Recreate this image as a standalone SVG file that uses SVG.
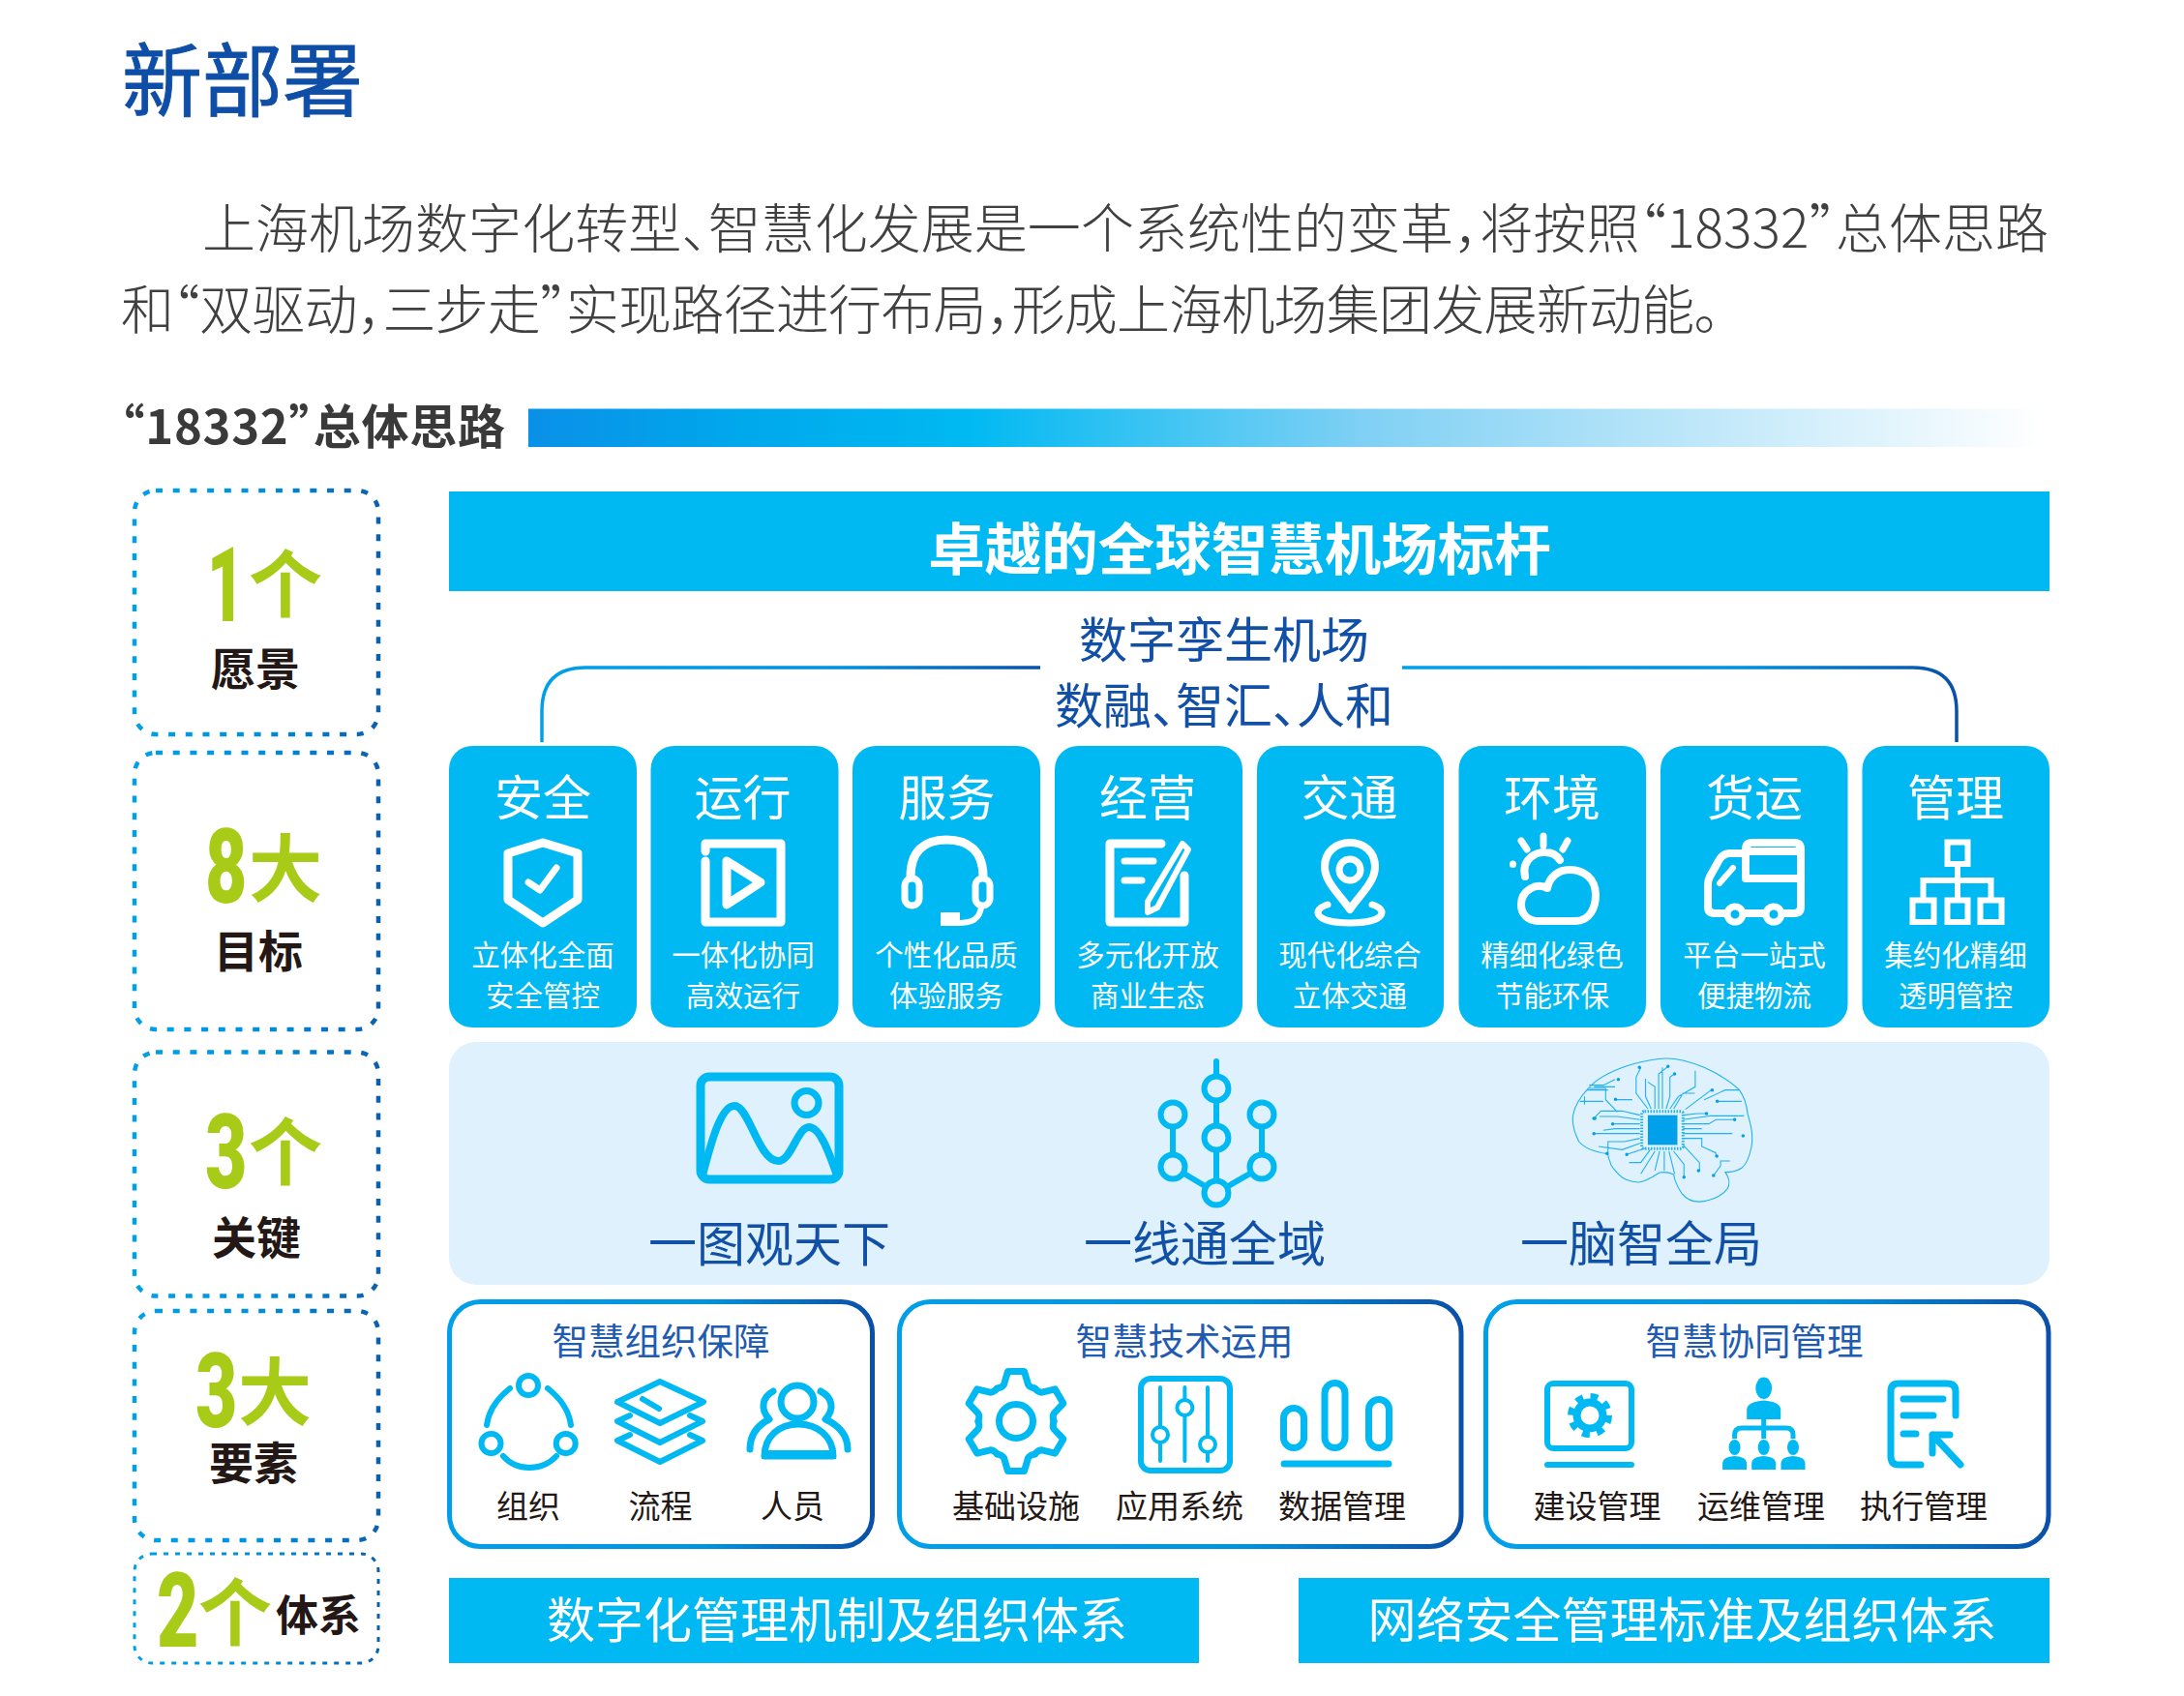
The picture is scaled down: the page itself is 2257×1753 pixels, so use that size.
<svg xmlns="http://www.w3.org/2000/svg" xmlns:xlink="http://www.w3.org/1999/xlink" width="2257" height="1753" viewBox="0 0 2257 1753">
<style>
text{font-family:"Noto Sans CJK SC","Noto Sans",sans-serif;font-feature-settings:"halt"}
.blue{fill:#1150a6}
.para{font-size:55px;fill:#404040;font-weight:300}
.ctitle{font-size:50px;fill:#fff;text-anchor:middle}
.csub{font-size:29.5px;fill:#fff;text-anchor:middle}
.big{font-size:50px;fill:#1150a6;text-anchor:middle}
.ft{font-size:37.5px;fill:#1f5bb0;text-anchor:middle}
.fl{font-size:33px;fill:#231815;text-anchor:middle}
.bar{font-size:50px;fill:#fff;text-anchor:middle}
.num{font-family:Roboto,"Liberation Sans",sans-serif;font-weight:900;font-size:107px;fill:#a8cb17}
.gc{font-size:76px;font-weight:700;fill:#a8cb17;text-anchor:middle}
.lb{font-size:46px;font-weight:700;fill:#231815;text-anchor:middle}
.dash{fill:none;stroke:url(#dg);stroke-width:4.5;stroke-dasharray:7 10.7}
.card{fill:#00b9f2}
.frame{fill:#fff;stroke:url(#fg);stroke-width:5}
.w{fill:none;stroke:#fff;stroke-width:9;stroke-linecap:round;stroke-linejoin:round}
.b{fill:none;stroke:#00b9f2;stroke-width:7;stroke-linecap:round;stroke-linejoin:round}
.bf{fill:#00b9f2}
.tr{fill:none;stroke:#1fb2ef;stroke-width:1.1;vector-effect:non-scaling-stroke}
.dot{fill:none;stroke:#00a0ea;stroke-width:3.5;stroke-linecap:round;vector-effect:non-scaling-stroke}
</style>
<defs>
<linearGradient id="hb" x1="0" x2="1" y1="0" y2="0">
<stop offset="0" stop-color="#0a90e8"/><stop offset=".14" stop-color="#00a8ec"/><stop offset=".29" stop-color="#00b9f2"/><stop offset=".55" stop-color="#7fd0f4"/><stop offset="1" stop-color="#fff"/>
</linearGradient>
<linearGradient id="dg" x1="0" x2="1" y1="0" y2="0"><stop offset="0" stop-color="#00a0e9"/><stop offset=".5" stop-color="#0090dd"/><stop offset="1" stop-color="#0a5fb0"/></linearGradient>
<linearGradient id="fg" x1="0" x2="1" y1="0" y2="0"><stop offset="0" stop-color="#00a0e9"/><stop offset=".6" stop-color="#0094de"/><stop offset="1" stop-color="#0a50a8"/></linearGradient>
<linearGradient id="lg1" gradientUnits="userSpaceOnUse" x1="560" x2="1075" y1="0" y2="0"><stop offset="0" stop-color="#00a0e9"/><stop offset=".6" stop-color="#0090dd"/><stop offset="1" stop-color="#0a50a8"/></linearGradient>
<linearGradient id="lg2" gradientUnits="userSpaceOnUse" x1="1449" x2="2022" y1="0" y2="0"><stop offset="0" stop-color="#00a0e9"/><stop offset=".6" stop-color="#0090dd"/><stop offset="1" stop-color="#0a50a8"/></linearGradient>
<path id="tooth" d="M-19.5 -33.8Q-14 -35 -12.5 -38L-8.5 -51.5H8.5L12.5 -38Q14 -35 19.5 -33.8"/>
<g id="man"><ellipse cx="0" cy="-13" rx="6" ry="8"/><path d="M-12.5 10V3Q-12.5 -3 0 -4Q12.5 -3 12.5 3V10Z"/></g>
</defs>
<rect width="2257" height="1753" fill="#fff"/>

<g id="heading">
<text x="126" y="114" font-size="83" fill="#0f4ea7" stroke="#0f4ea7" stroke-width=".9">新部署</text>
<text x="209" y="256" class="para" textLength="1908">上海机场数字化转型、智慧化发展是一个系统性的变革，将按照“18332”总体思路</text>
<text x="125" y="340" class="para" textLength="1653">和“双驱动，三步走”实现路径进行布局，形成上海机场集团发展新动能。</text>
<text x="125" y="459" font-size="49" font-weight="700" fill="#3a3a3a" textLength="397">“18332”总体思路</text>
<rect x="546" y="422.5" width="1565" height="39.5" fill="url(#hb)"/>
</g>

<g id="box-vision"><rect class="dash" x="139" y="507" width="252" height="252" rx="22"/>
<text class="num" transform="translate(214 642) scale(.62 1)">1</text><text class="gc" x="295" y="632">个</text><text class="lb" x="264" y="708">愿景</text></g>
<g id="box-goals"><rect class="dash" x="139" y="778" width="252" height="286" rx="22"/>
<text class="num" transform="translate(212 933) scale(.7 1)">8</text><text class="gc" x="295" y="926">大</text><text class="lb" x="267" y="1000">目标</text></g>
<g id="box-keys"><rect class="dash" x="139" y="1087.6" width="252" height="252" rx="22"/>
<text class="num" transform="translate(212 1228) scale(.7 1)">3</text><text class="gc" x="295" y="1219">个</text><text class="lb" x="265" y="1296">关键</text></g>
<g id="box-elements"><rect class="dash" x="139" y="1355" width="252" height="237" rx="22"/>
<text class="num" transform="translate(202 1475) scale(.7 1)">3</text><text class="gc" x="284" y="1467">大</text><text class="lb" x="262" y="1529">要素</text></g>
<g id="box-systems"><rect class="dash" x="139" y="1606" width="252" height="113" rx="18" style="stroke-width:3;stroke-dasharray:5 7"/>
<text class="num" transform="translate(162 1702) scale(.7 1)">2</text><text class="gc" x="243" y="1695">个</text><text class="lb" style="font-size:44px" x="329" y="1686">体系</text></g>

<g id="vision"><rect x="464" y="508" width="1654" height="103" fill="#00b9f2"/>
<text x="1281" y="588.5" font-size="58.5" font-weight="700" fill="#fff" text-anchor="middle">卓越的全球智慧机场标杆</text></g>

<g id="connectors" fill="none" stroke-width="3.5">
<path d="M560 767V735Q560 690 605 690H1075" stroke="url(#lg1)"/>
<path d="M1449 690H1977Q2022 690 2022 735V767" stroke="url(#lg2)"/>
</g>
<g id="twin">
<text class="big" x="1265" y="680">数字孪生机场</text>
<text class="big" x="1265" y="748">数融、智汇、人和</text>
</g>

<g id="card-safety"><rect class="card" x="464" y="771" width="194" height="291" rx="24"/>
<text class="ctitle" x="561" y="843">安全</text>
<path class="w" d="M561 871L597 882V930L561 954L525 930V882Z"/><path class="w" style="stroke-width:7" d="M546 912L558 920L575 897"/>
<text class="csub" x="561" y="998">立体化全面</text><text class="csub" x="561" y="1040">安全管控</text></g>
<g id="card-ops"><rect class="card" x="672.5" y="771" width="194" height="291" rx="24"/>
<text class="ctitle" x="767.5" y="843">运行</text>
<path class="w" d="M729 880V872H807V953H729V890"/><path class="w" d="M751 890L786 912L751 935Z"/>
<text class="csub" x="768" y="998">一体化协同</text><text class="csub" x="768" y="1040">高效运行</text></g>
<g id="card-service"><rect class="card" x="881" y="771" width="194" height="291" rx="24"/>
<text class="ctitle" x="978.5" y="843">服务</text>
<path class="w" d="M941 906C941 880 955 868 978 868C1001 868 1016 880 1016 906"/>
<rect class="w" style="stroke-width:7" x="935" y="908" width="15" height="28" rx="7.5"/><rect class="w" style="stroke-width:7" x="1008" y="908" width="15" height="28" rx="7.5"/>
<path class="w" style="stroke-width:6" d="M1014 938C1012 950 1005 954 990 954"/><rect x="972" y="943" width="20" height="14" fill="#fff"/>
<text class="csub" x="978" y="998">个性化品质</text><text class="csub" x="978" y="1040">体验服务</text></g>
<g id="card-business"><rect class="card" x="1090" y="771" width="194" height="291" rx="24"/>
<text class="ctitle" x="1186" y="843">经营</text>
<path class="w" d="M1200 872H1147V953H1224V905"/><path class="w" style="stroke-width:7" d="M1162 890H1192M1162 910H1180"/>
<path class="w" style="stroke-width:6" d="M1222 872L1228 878L1196 938L1186 943L1186 932Z"/>
<text class="csub" x="1186" y="998">多元化开放</text><text class="csub" x="1186" y="1040">商业生态</text></g>
<g id="card-traffic"><rect class="card" x="1299" y="771" width="193" height="291" rx="24"/>
<text class="ctitle" x="1394.5" y="843">交通</text>
<path class="w" style="stroke-width:8" d="M1395 940C1385 925 1369 912 1369 896C1369 880 1381 871 1395 871C1409 871 1421 880 1421 896C1421 912 1405 925 1395 940Z"/>
<circle class="w" style="stroke-width:7" cx="1395" cy="899" r="11"/>
<path class="w" style="stroke-width:7" d="M1372 935C1355 940 1358 954 1395 954C1432 954 1435 940 1418 935"/>
<text class="csub" x="1395" y="998">现代化综合</text><text class="csub" x="1395" y="1040">立体交通</text></g>
<g id="card-env"><rect class="card" x="1507.5" y="771" width="193.5" height="291" rx="24"/>
<text class="ctitle" x="1604" y="843">环境</text>
<path class="w" style="stroke-width:7" d="M1595 864V874M1572 869L1578 878M1620 869L1615 878M1563.5 893V893.5"/>
<path class="w" style="stroke-width:8" d="M1576 906C1572 888 1588 880 1597 881C1604 881 1609 884 1612 889"/>
<path class="w" style="stroke-width:8" d="M1590 952H1628C1643 952 1649 938 1649 925C1649 908 1637 899 1622 899C1610 899 1601 907 1599 918C1588 912 1572 920 1572 935C1572 946 1580 952 1590 952Z"/>
<text class="csub" x="1604" y="998">精细化绿色</text><text class="csub" x="1604" y="1040">节能环保</text></g>
<g id="card-cargo"><rect class="card" x="1716" y="771" width="193.5" height="291" rx="24"/>
<text class="ctitle" x="1813" y="843">货运</text>
<path class="w" style="stroke-width:8" d="M1804 882H1788Q1780 882 1776 890L1767 906Q1765 910 1765 914V937Q1765 944 1772 944H1782M1804 944H1822M1844 944H1854Q1861 944 1861 937V908"/>
<path class="w" style="stroke-width:8" d="M1804 908V878Q1804 871 1811 871H1854Q1861 871 1861 878V908ZM1806 880H1860"/>
<path class="w" style="stroke-width:6" d="M1777 913L1791 897"/>
<circle class="w" style="stroke-width:7" cx="1793" cy="945" r="8"/><circle class="w" style="stroke-width:7" cx="1833" cy="945" r="8"/>
<text class="csub" x="1813" y="998">平台一站式</text><text class="csub" x="1813" y="1040">便捷物流</text></g>
<g id="card-mgmt"><rect class="card" x="1924.5" y="771" width="193.5" height="291" rx="24"/>
<text class="ctitle" x="2021" y="843">管理</text>
<path class="w" style="stroke-width:6;stroke-linecap:butt;stroke-linejoin:miter" d="M2012.5 870.5H2033.5V893H2012.5ZM1976.5 930.5H1998.5V953H1976.5ZM2012.5 930.5H2033.5V953H2012.5ZM2046.5 930.5H2068.5V953H2046.5ZM2023 893V930M1987.5 930V910H2057.5V930"/>
<text class="csub" x="2021" y="998">集约化精细</text><text class="csub" x="2021" y="1040">透明管控</text></g>

<rect id="key-panel" x="464" y="1077" width="1654" height="251" rx="28" fill="#def1fc"/>
<g id="key-map">
<rect x="724" y="1113" width="143" height="106" rx="9" fill="none" stroke="#00b9f2" stroke-width="9"/>
<circle class="b" cx="833.5" cy="1140" r="12.5"/>
<path class="b" style="stroke-width:8" d="M726 1215C735 1180 745 1143 759 1143C774 1143 784 1200 804 1200C818 1200 824 1165 836 1165C848 1165 858 1195 865 1215"/>
<text class="big" x="795" y="1304">一图观天下</text></g>
<g id="key-line">
<path class="b" style="stroke-width:6" d="M1257 1097V1233M1212 1152V1206L1257 1233L1304 1206V1152"/>
<g fill="#def1fc" stroke="#00b9f2" stroke-width="6"><circle cx="1257" cy="1125" r="12.5"/><circle cx="1212" cy="1152" r="12.5"/><circle cx="1304" cy="1152" r="12.5"/><circle cx="1257" cy="1176" r="12.5"/><circle cx="1212" cy="1206" r="12.5"/><circle cx="1304" cy="1206" r="12.5"/><circle cx="1257" cy="1233" r="12.5"/></g>
<text class="big" x="1245" y="1304">一线通全域</text></g>
<g id="key-brain">
<g transform="translate(1400 1070) scale(.4847 .3333)">
<path class="tr" d="M540 368C510 362 490 350 478 330C468 300 462 270 466 245C470 215 482 190 498 165C515 135 540 115 580 95C610 82 640 72 665 72C695 72 720 85 745 100C775 120 800 140 820 170C833 195 836 220 838 245C845 280 850 310 846 345C842 375 835 400 825 412C815 422 800 425 790 425C797 440 802 455 795 475C785 495 770 508 745 515C725 520 708 510 697 490C688 470 682 450 680 432C670 425 658 424 650 426C635 440 618 455 605 456C590 455 575 450 565 435C555 420 545 405 545 395C542 385 540 375 540 368Z"/>
<path class="tr" d="M625 228L600 180V130L610 100M632 228L620 190V135M640 228V160L625 145M648 228V120L668 97M656 228V100M664 228L672 190V130L682 120M672 228L690 190L726 160V110M680 228L700 180H725M608 248L570 235H525L510 258M608 262L560 252H522M608 275H550M608 290H555L530 295M608 305H510M608 320L575 330H540V365M608 335L570 355L520 345M560 238L535 200V165H500M555 160H510M555 137L530 155H500M555 200H592M700 248L730 243H750M700 262L760 250H830M700 275H755L770 262H810M700 290H740M700 305H805M700 320H740V345L770 365V375M705 230L760 170M745 200L790 170H820M770 205H825M700 340L735 395V420M680 360L702 400V440M670 360L682 430M660 360V420M650 360L640 420M640 360L610 430M630 355L610 395H585M620 350L580 370M800 390H780V405L765 435M490 215V190M480 205H530M495 170H540"/>
<path class="dot" d="M510 258h0M550 275h0M510 305h0M556 199h0M562 137h0M668 97h0M682 120h0M607 100h0M750 243h0M810 262h0M762 170h0M773 205h0M772 375h0M733 420h0M702 440h0M580 370h0M538 367h0M765 435h0M828 312h0M512 258h0"/>
<rect x="612" y="236" width="88" height="116" rx="6" fill="none" stroke="#1fb2ef" stroke-width="3" stroke-dasharray="1.5 1.5" vector-effect="non-scaling-stroke"/>
<rect x="625" y="248" width="63" height="92" fill="#00a0ea"/>
</g>
<text class="big" x="1696" y="1304">一脑智全局</text></g>

<g id="frame-org"><rect class="frame" x="464.5" y="1345.5" width="437" height="253" rx="32"/>
<text class="ft" x="683" y="1400">智慧组织保障</text>
<path class="b" style="stroke-width:6" d="M527 1435C513 1446 505 1458 503 1473M566 1435C580 1446 588 1458 590 1473M520 1505C534 1521 560 1521 575 1505"/>
<circle class="b" style="stroke-width:6" cx="546" cy="1432" r="10"/><circle class="b" style="stroke-width:6" cx="507.5" cy="1492" r="10"/><circle class="b" style="stroke-width:6" cx="584.7" cy="1492" r="10"/>
<path class="b" style="stroke-width:6" d="M682 1428L727 1449L682 1471L638 1449ZM664 1446L681 1456M651 1463L638 1469L682 1491L726 1469L713 1463M651 1483L638 1489L682 1511L726 1489L713 1483"/>
<ellipse class="b" cx="824" cy="1449" rx="17" ry="17"/>
<path class="b" d="M790 1505C790 1485 805 1472 825 1472C845 1472 861 1485 861 1505Z"/>
<path class="bf" d="M787 1499H864V1508H787Z"/>
<path class="b" d="M799 1438C788 1444 785 1456 795 1467C783 1473 775 1483 775 1498M848 1438C860 1444 863 1456 853 1467C866 1473 876 1483 876 1498"/>
<text class="fl" x="546" y="1569">组织</text><text class="fl" x="682.5" y="1569">流程</text><text class="fl" x="819" y="1569">人员</text></g>

<g id="frame-tech"><rect class="frame" x="929.5" y="1345.5" width="580.5" height="253" rx="32"/>
<text class="ft" x="1224" y="1400">智慧技术运用</text>
<g class="b" transform="translate(1050 1469)"><use xlink:href="#tooth"/><use xlink:href="#tooth" transform="rotate(60)"/><use xlink:href="#tooth" transform="rotate(120)"/><use xlink:href="#tooth" transform="rotate(180)"/><use xlink:href="#tooth" transform="rotate(240)"/><use xlink:href="#tooth" transform="rotate(300)"/><circle r="17.5"/></g>
<rect class="b" style="stroke-width:6" x="1179" y="1425" width="92" height="95" rx="10"/>
<path class="b" style="stroke-width:4" d="M1199 1434V1510M1224.4 1434V1510M1248 1434V1510"/>
<g fill="#fff" stroke="#00b9f2" stroke-width="4"><circle cx="1199" cy="1483" r="8"/><circle cx="1224.4" cy="1455" r="8"/><circle cx="1248" cy="1493" r="8"/></g>
<rect class="b" x="1326.5" y="1455.5" width="21" height="41" rx="10.5"/><rect class="b" x="1369" y="1429.5" width="21" height="67" rx="10.5"/><rect class="b" x="1414.5" y="1446.5" width="21" height="50" rx="10.5"/>
<path class="b" d="M1327 1513H1435"/>
<text class="fl" x="1050" y="1569">基础设施</text><text class="fl" x="1219" y="1569">应用系统</text><text class="fl" x="1387" y="1569">数据管理</text></g>

<g id="frame-mgmt"><rect class="frame" x="1535.5" y="1345.5" width="581.5" height="253" rx="32"/>
<text class="ft" x="1813" y="1400">智慧协同管理</text>
<rect class="b" style="stroke-width:6" x="1599" y="1430" width="87" height="67" rx="6"/><path class="b" style="stroke-width:6" d="M1599 1514H1686"/>
<g fill="none" stroke="#00b9f2"><circle cx="1643" cy="1463" r="19" stroke-width="8" stroke-dasharray="7.5 7.42"/><circle cx="1643" cy="1463" r="13.5" stroke-width="8"/></g>
<g class="bf"><use xlink:href="#man" transform="translate(1822.7 1453) scale(1.4)"/><use xlink:href="#man" transform="translate(1792.6 1509)"/><use xlink:href="#man" transform="translate(1822.7 1509)"/><use xlink:href="#man" transform="translate(1853 1509)"/></g>
<path class="b" style="stroke-width:5;stroke-linecap:butt" d="M1822.7 1466V1487M1792.6 1487V1483Q1792.6 1476 1800 1476H1846Q1853 1476 1853 1483V1487"/>
<path class="b" d="M1985 1514H1962Q1954 1514 1954 1505V1438Q1954 1430 1962 1430H2012Q2021 1430 2021 1438V1463M1967 1446H2008M1967 1463H1998M1967 1482H1980M2026 1514L1997 1483M2015 1483H1997V1502"/>
<text class="fl" x="1650.5" y="1569">建设管理</text><text class="fl" x="1820" y="1569">运维管理</text><text class="fl" x="1988" y="1569">执行管理</text></g>

<g id="bar-digital"><rect x="464" y="1631" width="775" height="88" fill="#00b9f2"/><text class="bar" x="865" y="1693">数字化管理机制及组织体系</text></g>
<g id="bar-security"><rect x="1342" y="1631" width="776" height="88" fill="#00b9f2"/><text class="bar" x="1738.5" y="1693">网络安全管理标准及组织体系</text></g>
</svg>
